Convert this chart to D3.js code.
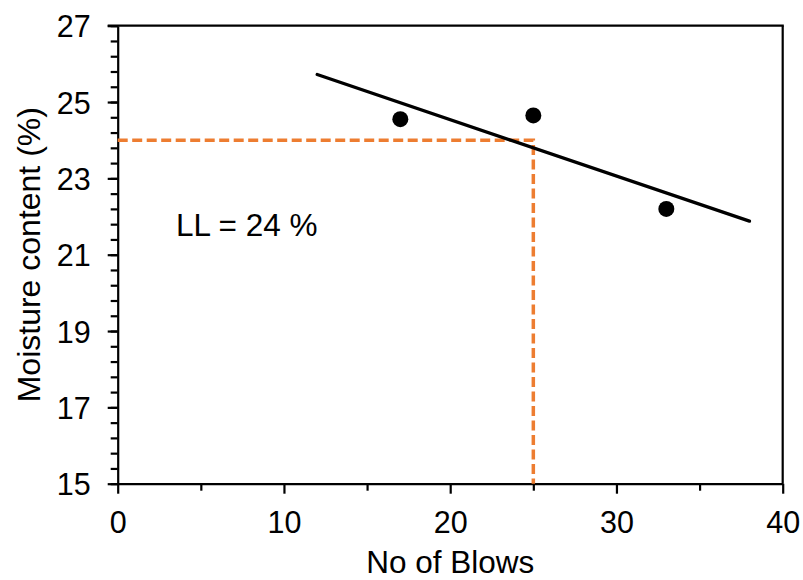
<!DOCTYPE html>
<html lang="en">
  <head>
    <meta charset="utf-8">
    <title>Liquid limit</title>
    <script src="https://cdnjs.cloudflare.com/ajax/libs/d3/7.8.5/d3.min.js"></script>
    <style type="text/css">
      body { margin: 0; background: #fff; }
      text { font-family: Arial, "Liberation Sans", sans-serif; fill: #000; }
    </style>
  </head>
  <body>
    <script type="text/javascript">

    // data
    var blows = [17, 25, 33];
    var moisture = [24.55, 24.65, 22.2];
    var trendBlows = [12, 38];
    var trendMoisture = [25.72, 21.88];
    var llBlows = 25;
    var llValue = 24;
    var llLabel = "LL = 24 %";
    var xTicks = [0, 10, 20, 30, 40];
    var xMinor = [5, 15, 25, 35];
    var yTicks = [15, 17, 19, 21, 23, 25, 27];
    var yMinor = d3.range(0, 31).map(function(i) { return +(15 + i * 0.4).toFixed(1); });

    var w = 803, h = 580;
    var padL = 117.7, padR = 782.7, padT = 25.7, padB = 483.7;

    var x = d3.scaleLinear().domain([0, 40]).range([padL, padR]);
    var y = d3.scaleLinear().domain([15, 27]).range([padB, padT]);

    var svg = d3.select("body").append("svg")
                .attr("width", w)
                .attr("height", h);

    // minor ticks
    svg.append("g")
       .attr("transform", "translate(" + padL + ",0)")
       .call(d3.axisLeft(y).tickValues(yMinor).tickSize(7).tickFormat(""))
       .call(function(g) { g.select(".domain").remove(); })
       .selectAll("line").attr("stroke", "#000").attr("stroke-width", 2.2);

    svg.append("g")
       .attr("transform", "translate(0," + padB + ")")
       .call(d3.axisBottom(x).tickValues(xMinor).tickSize(7).tickFormat(""))
       .call(function(g) { g.select(".domain").remove(); })
       .selectAll("line").attr("stroke", "#000").attr("stroke-width", 2.2);

    // major axes
    var yAxis = svg.append("g")
       .attr("transform", "translate(" + padL + ",0)")
       .call(d3.axisLeft(y).tickValues(yTicks).tickSize(10).tickSizeOuter(0).tickPadding(17));
    yAxis.selectAll("text").attr("font-size", "30.5px").attr("dy", "0.36em");

    var xAxis = svg.append("g")
       .attr("transform", "translate(0," + padB + ")")
       .call(d3.axisBottom(x).tickValues(xTicks).tickSize(10).tickSizeOuter(0).tickPadding(17));
    xAxis.selectAll("text").attr("font-size", "30.5px").attr("dy", "0.72em");

    svg.selectAll(".domain").attr("stroke", "#000").attr("stroke-width", 2.2);
    svg.selectAll(".tick line").attr("stroke", "#000").attr("stroke-width", 2.2);

    // box top and right
    svg.append("line")
       .attr("x1", x(0) - 10).attr("x2", x(40) + 1.1)
       .attr("y1", y(27)).attr("y2", y(27))
       .attr("stroke", "#000").attr("stroke-width", 2.2);
    svg.append("line")
       .attr("x1", x(40)).attr("x2", x(40))
       .attr("y1", y(27)).attr("y2", y(15))
       .attr("stroke", "#000").attr("stroke-width", 2.2);

    // liquid limit guide
    svg.append("path")
       .attr("d", d3.line()([[x(0), y(llValue)], [x(llBlows), y(llValue)], [x(llBlows), y(15)]]))
       .attr("fill", "none")
       .attr("stroke", "#ED7D31")
       .attr("stroke-width", 3.5)
       .attr("stroke-dasharray", "10,4.5");

    // trend line
    svg.append("line")
       .attr("x1", x(trendBlows[0])).attr("y1", y(trendMoisture[0]))
       .attr("x2", x(trendBlows[1])).attr("y2", y(trendMoisture[1]))
       .attr("stroke", "#000")
       .attr("stroke-width", 3.3)
       .attr("stroke-linecap", "round");

    // points
    svg.selectAll("circle")
       .data(blows)
       .enter()
       .append("circle")
       .attr("cx", function(d) { return x(d); })
       .attr("cy", function(d, i) { return y(moisture[i]); })
       .attr("r", 8)
       .attr("fill", "#000");

    svg.append("text")
       .attr("x", 176)
       .attr("y", 236)
       .attr("font-size", "31.5px")
       .text(llLabel);

    // axis titles
    svg.append("text")
       .attr("x", (padL + padR) / 2)
       .attr("y", 573)
       .attr("text-anchor", "middle")
       .attr("font-size", "31.5px")
       .text("No of Blows");

    svg.append("text")
       .attr("transform", "translate(40," + ((padT + padB) / 2) + ") rotate(-90)")
       .attr("text-anchor", "middle")
       .attr("font-size", "32px")
       .text("Moisture content (%)");

    </script>
  </body>
</html>
